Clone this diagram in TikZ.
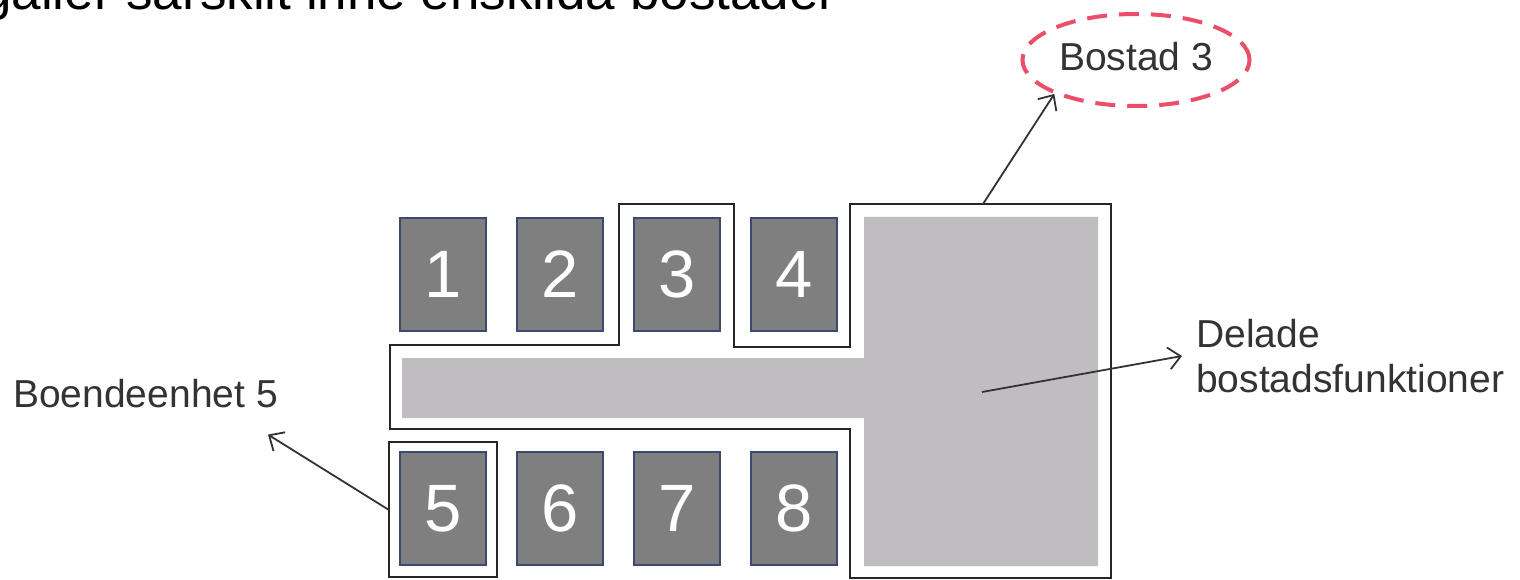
\documentclass[tikz,border=0pt]{standalone}
\usepackage{fontspec}
\setmainfont{Liberation Sans}
\usetikzlibrary{arrows.meta,shapes.geometric}
\definecolor{boxfill}{HTML}{7F7F7F}
\definecolor{boxline}{HTML}{3B4A6E}
\definecolor{shared}{HTML}{BFBDBF}
\definecolor{pinkred}{HTML}{EC4D68}
\definecolor{txt}{HTML}{333333}
\begin{document}
\begin{tikzpicture}[x=1pt,y=-1pt,
 unit/.style={draw=boxline, fill=boxfill, line width=2pt, minimum width=86pt, minimum height=113pt, inner sep=0pt, text=white, font=\fontsize{67}{67}\selectfont},
 wall/.style={draw=black!85, line width=2.5pt},
 arr/.style={draw=txt, line width=1.8pt, -{Straight Barb[length=12pt,width=22pt,line width=1.8pt]}},
 lbl/.style={text=txt, font=\fontsize{39}{45}\selectfont, inner sep=0pt},
]
\useasboundingbox (0,0) rectangle (1520,580);
\fill[white] (0,0) rectangle (1520,580);
\node[anchor=base west, inner sep=0pt, font=\fontsize{53}{60}\selectfont] (title) at (-18,10) {gäller särskilt inne enskilda bostäder};
% shared functions area
\fill[shared] (402,358) -- (864,358) -- (864,217) -- (1098,217) -- (1098,566) -- (864,566) -- (864,418) -- (402,418) -- cycle;
% outline of Bostad 3
\draw[wall] (390,345) -- (619,345) -- (619,204) -- (734,204) -- (734,347) -- (850,347) -- (850,204) -- (1111,204) -- (1111,578) -- (850,578) -- (850,429) -- (390,429) -- cycle;
% frame of unit 5
\draw[wall] (389,442) rectangle (497,577);
% units
\node[unit] (u1) at (443,274.5) {1};
\node[unit] (u2) at (560,274.5) {2};
\node[unit] (u3) at (677,274.5) {3};
\node[unit] (u4) at (794,274.5) {4};
\node[unit] (u5) at (443,508.5) {5};
\node[unit] (u6) at (560,508.5) {6};
\node[unit] (u7) at (677,508.5) {7};
\node[unit] (u8) at (794,508.5) {8};
% labels
\node[lbl, ellipse, draw=pinkred, line width=4pt, dash pattern=on 20pt off 12pt, minimum width=227pt, minimum height=92pt, text depth=8pt] (bostad) at (1136,60) {Bostad 3};
\node[lbl, align=left, anchor=west, inner xsep=14pt] (delade) at (1182,356) {Delade\\bostadsfunktioner};
\node[lbl, anchor=base west] (boende) at (13,407) {Boendeenhet 5};
% connector start points
\coordinate (a1) at (983,204);
\coordinate (a2) at (982,392);
\coordinate (a3) at (389,510);
\draw[arr] (a1) -- (bostad.south west);
\draw[arr] (a2) -- (delade.west);
\draw[arr] (a3) -- ([shift={(-10pt,-27pt)}]boende.south east);
\end{tikzpicture}
\end{document}
